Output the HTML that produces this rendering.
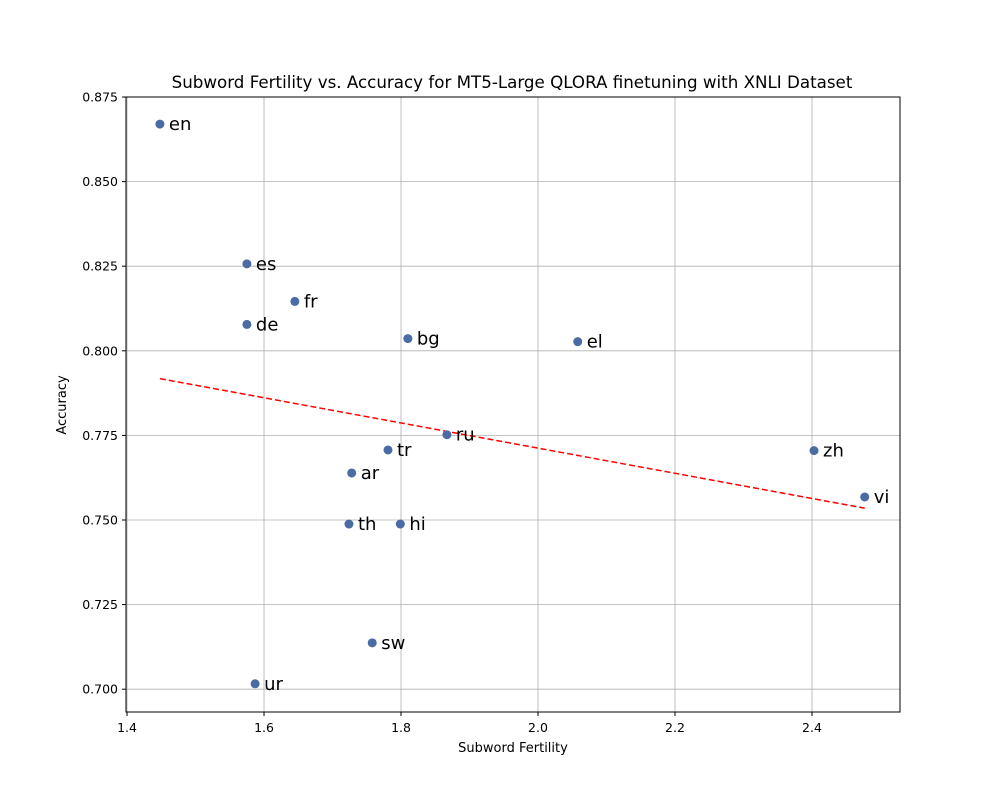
<!DOCTYPE html>
<html><head><meta charset="utf-8"><style>
body{margin:0;background:#fff;font-family:"DejaVu Sans",sans-serif}
</style></head><body>
<svg id="chart" width="1000" height="800" xmlns="http://www.w3.org/2000/svg" font-family="DejaVu Sans, sans-serif">
<rect width="1000" height="800" fill="#fff"/>
<text x="512" y="88" text-anchor="middle" font-size="16.7">Subword Fertility vs. Accuracy for MT5-Large QLORA finetuning with XNLI Dataset</text>
<g id="grid"></g><g id="trend"></g><g id="pts"></g><g id="ticks"></g>
<rect x="126" y="97" width="774" height="615" fill="none" stroke="#000" stroke-width="1"/>
<text x="513" y="752" text-anchor="middle" font-size="13">Subword Fertility</text>
<text transform="translate(66,405) rotate(-90)" text-anchor="middle" font-size="13">Accuracy</text>
</svg>
<script>
const langs=["en","es","fr","de","bg","el","ru","zh","tr","ar","vi","th","hi","sw","ur"];
const fertility=[1.448,1.575,1.645,1.575,1.810,2.058,1.867,2.403,1.781,1.728,2.477,1.724,1.799,1.758,1.587];
const accuracy=[0.867,0.8257,0.8146,0.8078,0.8036,0.8027,0.7752,0.7705,0.7707,0.7639,0.7568,0.7488,0.7488,0.7137,0.7016];
const xTicks=[1.4,1.6,1.8,2.0,2.2,2.4];
const yTicks=[0.700,0.725,0.750,0.775,0.800,0.825,0.850,0.875];
const X0=126,X1=900,Y0=97,Y1=712,xmin=1.3985,xmax=2.5285,ymin=0.69326,ymax=0.875;
const sx=v=>X0+(v-xmin)/(xmax-xmin)*(X1-X0);
const sy=v=>Y1-(v-ymin)/(ymax-ymin)*(Y1-Y0);
const NS="http://www.w3.org/2000/svg";
function mk(t,a,p){const e=document.createElementNS(NS,t);for(const k in a)e.setAttribute(k,a[k]);p.appendChild(e);return e;}
const grid=document.getElementById('grid'),ticks=document.getElementById('ticks');
xTicks.forEach(t=>{const x=sx(t);
 const g=mk('line',{x1:x,x2:x,y1:Y0,y2:Y1,stroke:'#b0b0b0','stroke-width':0.8},grid);
 
 
 mk('line',{x1:x,x2:x,y1:Y1,y2:Y1+4,stroke:'#000'},ticks);
 const l=mk('text',{x:x,y:Y1+20,'text-anchor':'middle','font-size':12.5},ticks);l.textContent=t.toFixed(1);
 
 });
yTicks.forEach(t=>{const y=sy(t);
 const g=mk('line',{x1:X0,x2:X1,y1:y,y2:y,stroke:'#b0b0b0','stroke-width':0.8},grid);
 
 
 mk('line',{x1:X0-4,x2:X0,y1:y,y2:y,stroke:'#000'},ticks);
 const l=mk('text',{x:X0-8,y:y+4.5,'text-anchor':'end','font-size':12.5},ticks);l.textContent=t.toFixed(3);
 
 });
const n=fertility.length;let mx=0,my=0;fertility.forEach((v,i)=>{mx+=v;my+=accuracy[i];});mx/=n;my/=n;
let sxy=0,sxx=0;fertility.forEach((v,i)=>{sxy+=(v-mx)*(accuracy[i]-my);sxx+=(v-mx)*(v-mx);});
const slope=sxy/sxx,ic=my-slope*mx;
const fmin=Math.min(...fertility),fmax=Math.max(...fertility);
const tl=mk('line',{x1:sx(fmin),y1:sy(slope*fmin+ic),x2:sx(fmax),y2:sy(slope*fmax+ic),stroke:'#ff0000','stroke-width':1.5,'stroke-dasharray':'6,3'},document.getElementById('trend'));


const pts=document.getElementById('pts');
langs.forEach((lg,i)=>{const x=sx(fertility[i]),y=sy(accuracy[i]);
 const c=mk('circle',{cx:x,cy:y,r:4.5,fill:'#4a6ba3'},pts);
 
 
 const t=mk('text',{x:x+9,y:y+6,'font-size':18},pts);t.textContent=lg;
 
 });
</script>
</body></html>
